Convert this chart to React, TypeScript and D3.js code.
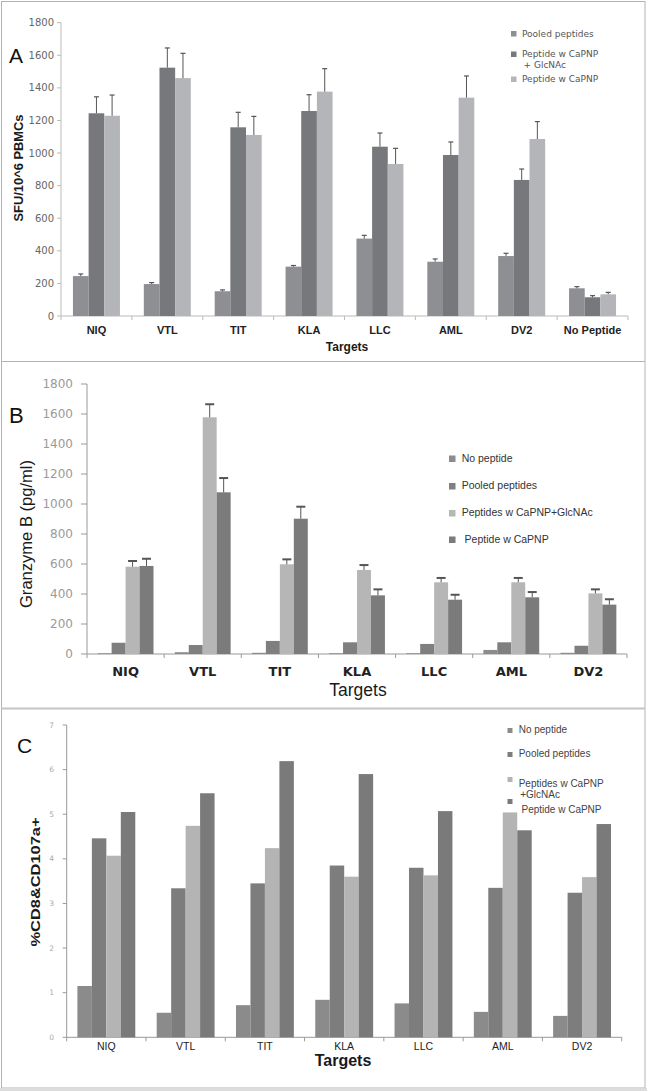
import * as d3 from 'd3';
import React from 'react';

// ---- panel A : ELISpot
const targetsA = ['NIQ', 'VTL', 'TIT', 'KLA', 'LLC', 'AML', 'DV2', 'No Peptide'];
const pooledA = [245, 196, 152, 303, 475, 333, 368, 170];
const pooledErrA = [13, 9, 8, 7, 20, 17, 17, 10];
const glcnacA = [1244, 1524, 1158, 1258, 1039, 988, 835, 115];
const glcnacErrA = [101, 121, 92, 100, 84, 80, 67, 10];
const capnpA = [1229, 1460, 1111, 1377, 933, 1340, 1086, 133];
const capnpErrA = [127, 152, 114, 141, 96, 133, 107, 12];
const legendA = [['Pooled peptides'], ['Peptide w CaPNP', '+ GlcNAc'], ['Peptide w CaPNP']];
const ticksA = [0, 200, 400, 600, 800, 1000, 1200, 1400, 1600, 1800];

// ---- panel B : granzyme B
const targetsBC = ['NIQ', 'VTL', 'TIT', 'KLA', 'LLC', 'AML', 'DV2'];
const noPepB = [5, 12, 8, 5, 5, 27, 8];
const pooledB = [75, 60, 87, 78, 67, 78, 55];
const glcnacB = [582, 1578, 598, 560, 478, 478, 404];
const glcnacErrB = [38, 87, 33, 33, 29, 29, 27];
const capnpB = [587, 1078, 902, 391, 362, 378, 329];
const capnpErrB = [48, 95, 80, 40, 33, 35, 36];
const legendB = [['No peptide'], ['Pooled peptides'], ['Peptides w CaPNP+GlcNAc'], [' Peptide w CaPNP']];
const ticksB = [0, 200, 400, 600, 800, 1000, 1200, 1400, 1600, 1800];

// ---- panel C : CD107a
const noPepC = [1.15, 0.55, 0.72, 0.84, 0.76, 0.57, 0.48];
const pooledC = [4.46, 3.34, 3.45, 3.85, 3.8, 3.35, 3.24];
const glcnacC = [4.07, 4.74, 4.24, 3.6, 3.63, 5.04, 3.59];
const capnpC = [5.05, 5.47, 6.19, 5.9, 5.07, 4.64, 4.78];
const legendC = [['No peptide'], ['Pooled peptides'], ['Peptides w CaPNP', '+GlcNAc'], [' Peptide w CaPNP']];
const ticksC = [0, 1, 2, 3, 4, 5, 6, 7];

const W = 647;
const H = 1091;

function Panel(p: any) {
  const x = d3.scaleBand().domain(p.cats).range([p.x0, p.x1]).paddingInner(p.pad).paddingOuter(p.pad / 2);
  const sub = d3.scaleBand().domain(d3.range(p.series.length).map(String)).range([0, x.bandwidth()]);
  const y = d3.scaleLinear().domain([0, p.max]).range([p.yb, p.yt]);
  const step = x.step();
  const bounds = d3.range(p.cats.length + 1).map((i) => p.x0 + i * step);

  return (
    <g>
      <text x={p.letterX} y={p.letterY} fontFamily="Liberation Sans, Arial" fontSize={p.letterSize} fill="#111">{p.letter}</text>
      {/* y axis */}
      <line x1={p.x0} x2={p.x0} y1={y(p.max)} y2={p.yb} stroke={p.axisColor} />
      {p.ticks.map((t: number) => (
        <g key={t}>
          <line x1={p.x0 - p.tickLen} x2={p.x0} y1={y(t)} y2={y(t)} stroke={p.axisColor} />
          <text x={p.tickX} y={y(t)} dy="0.35em" textAnchor="end" fontFamily={p.tickFont} fontSize={p.tickSize} fill={p.tickColor}>{t}</text>
        </g>
      ))}
      {/* x axis */}
      <line x1={p.x0} x2={p.x1} y1={p.yb} y2={p.yb} stroke={p.axisColor} />
      {bounds.map((b: number, i: number) => (
        <line key={i} x1={b} x2={b} y1={p.yb} y2={p.yb + 4} stroke={p.axisColor} />
      ))}
      {/* bars */}
      {p.series.map((s: any, si: number) => (
        <g key={si}>
          {s.values.map((v: number, ci: number) => {
            const bx = (x(p.cats[ci]) as number) + (sub(String(si)) as number);
            return <rect key={ci} x={bx} y={y(v)} width={sub.bandwidth()} height={p.yb - y(v)} fill={s.color} />;
          })}
          {s.err && s.values.map((v: number, ci: number) => {
            const cx = (x(p.cats[ci]) as number) + (sub(String(si)) as number) + sub.bandwidth() / 2;
            const top = y(v + s.err[ci]);
            return (
              <g key={'e' + ci} stroke={p.errColor} strokeWidth={p.errWidth}>
                <line x1={cx} x2={cx} y1={y(v)} y2={top} strokeWidth={1} />
                <line x1={cx - p.capW / 2} x2={cx + p.capW / 2} y1={top} y2={top} />
              </g>
            );
          })}
        </g>
      ))}
      {/* category labels */}
      {p.cats.map((c: string) => (
        <text key={c} x={(x(c) as number) + x.bandwidth() / 2} y={p.catY} textAnchor="middle"
          fontFamily={p.catFont} fontWeight={p.catWeight} fontSize={p.catSize} fill="#222">{c}</text>
      ))}
      <text x={p.titleX} y={p.titleY} textAnchor="middle" fontFamily="Liberation Sans, Arial"
        fontWeight={p.titleWeight} fontSize={p.titleSize} fill="#1a1a1a">Targets</text>
      <text transform={`translate(${p.yLabX},${p.yLabY}) rotate(-90)`} textAnchor="middle" dominantBaseline="central"
        fontFamily="Liberation Sans, Arial" fontWeight={p.yLabWeight} fontSize={p.yLabSize} fill="#1a1a1a"
        textLength={p.yLabLen} lengthAdjust="spacingAndGlyphs">{p.yLab}</text>
      {/* legend */}
      {p.legend.map((lines: string[], i: number) => (
        <g key={i}>
          <rect x={p.legX} y={p.legSq[i]} width={p.sqSize} height={p.sqSize} fill={p.series[i].color} />
          {lines.map((l: string, li: number) => (
            <text key={li} x={p.legTextX + (li > 0 ? 1.5 : 0)} y={p.legY[i] + li * p.legLine}
              fontFamily={p.legFont} fontSize={p.legSize} fill={p.legColor} style={{ whiteSpace: 'pre' }}>{l}</text>
          ))}
        </g>
      ))}
    </g>
  );
}

export default function App() {
  const panelA = {
    letter: 'A', letterX: 9, letterY: 63, letterSize: 21,
    cats: targetsA, x0: 61, x1: 628, yt: 22.7, yb: 316, max: 1800, pad: 0.337,
    ticks: ticksA, tickLen: 4, tickX: 54, tickFont: 'DejaVu Sans', tickSize: 10, tickColor: '#666', axisColor: '#bbb',
    series: [
      { values: pooledA, err: pooledErrA, color: '#8e8f92' },
      { values: glcnacA, err: glcnacErrA, color: '#77787c' },
      { values: capnpA, err: capnpErrA, color: '#b4b5b8' },
    ],
    errColor: '#555', errWidth: 1.2, capW: 5,
    catY: 334, catFont: 'Liberation Sans, Arial', catWeight: 'bold', catSize: 11,
    titleX: 347, titleY: 351, titleWeight: 'bold', titleSize: 12,
    yLab: 'SFU/10^6 PBMCs', yLabX: 19, yLabY: 168, yLabWeight: 'bold', yLabSize: 12.5, yLabLen: 107,
    legend: legendA, legX: 511, sqSize: 5.5, legSq: [31, 51.5, 76.5], legTextX: 522, legY: [36.7, 56.5, 81.7], legLine: 11.2,
    legFont: 'DejaVu Sans', legSize: 9, legColor: '#555',
  };
  const panelB = {
    letter: 'B', letterX: 9, letterY: 423, letterSize: 22,
    cats: targetsBC, x0: 87, x1: 627, yt: 384, yb: 654, max: 1800, pad: 0.276,
    ticks: ticksB, tickLen: 6, tickX: 73, tickFont: 'DejaVu Sans', tickSize: 12, tickColor: '#9a9a9a', axisColor: '#999',
    series: [
      { values: noPepB, color: '#8c8c8c' },
      { values: pooledB, color: '#7f7f7f' },
      { values: glcnacB, err: glcnacErrB, color: '#b6b6b6' },
      { values: capnpB, err: capnpErrB, color: '#7b7b7b' },
    ],
    errColor: '#555', errWidth: 2, capW: 9,
    catY: 676, catFont: 'DejaVu Sans', catWeight: 'bold', catSize: 13,
    titleX: 358, titleY: 696, titleWeight: 'normal', titleSize: 17.5,
    yLab: 'Granzyme B (pg/ml)', yLabX: 26, yLabY: 534, yLabWeight: 'normal', yLabSize: 16, yLabLen: 148,
    legend: legendB, legX: 449, sqSize: 6.5, legSq: [455.5, 483, 510, 536.5], legTextX: 461.7, legY: [462, 489, 516, 543], legLine: 12,
    legFont: 'Liberation Sans, Arial', legSize: 10.5, legColor: '#333',
  };
  const panelC = {
    letter: 'C', letterX: 17, letterY: 753, letterSize: 21,
    cats: targetsBC, x0: 66.7, x1: 621.7, yt: 725, yb: 1037.3, max: 7, pad: 0.27,
    ticks: ticksC, tickLen: 4, tickX: 54, tickFont: 'DejaVu Sans', tickSize: 7.5, tickColor: '#aaa', axisColor: '#999',
    series: [
      { values: noPepC, color: '#8b8b8b' },
      { values: pooledC, color: '#7d7d7d' },
      { values: glcnacC, color: '#b4b4b4' },
      { values: capnpC, color: '#7a7a7a' },
    ],
    errColor: '#555', errWidth: 1, capW: 5,
    catY: 1050, catFont: 'Liberation Sans, Arial', catWeight: 'normal', catSize: 10.5,
    titleX: 343, titleY: 1066, titleWeight: 'bold', titleSize: 16,
    yLab: '%CD8&CD107a+', yLabX: 35, yLabY: 882, yLabWeight: 'bold', yLabSize: 13, yLabLen: 129,
    legend: legendC, legX: 507.5, sqSize: 5, legSq: [728, 752, 777, 799], legTextX: 518.7, legY: [733, 757, 787, 813], legLine: 11,
    legFont: 'Liberation Sans, Arial', legSize: 10, legColor: '#444',
  };

  return (
    <svg width={W} height={H} style={{ position: 'absolute', left: 0, top: 0, background: '#fff' }}>
      <rect x={0} y={0} width={W} height={H} fill="#fff" />
      <rect x={1.5} y={1.5} width={643.5} height={1086.5} fill="none" stroke="#b3b3b3" />
      <line x1={1.5} x2={645} y1={361.5} y2={361.5} stroke="#b3b3b3" />
      <line x1={1.5} x2={645} y1={708.5} y2={708.5} stroke="#c4c4c4" strokeWidth={2} />
      <rect x={0} y={1088} width={W} height={3} fill="#dcdcdc" />
      <Panel {...panelA} />
      <Panel {...panelB} />
      <Panel {...panelC} />
    </svg>
  );
}
